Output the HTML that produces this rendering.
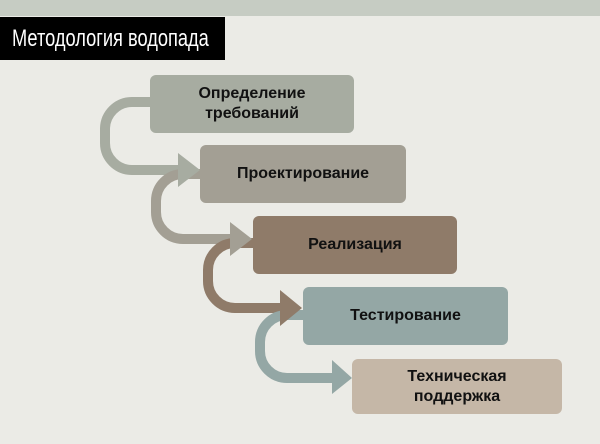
<!DOCTYPE html>
<html><head><meta charset="utf-8"><style>
body{margin:0;width:600px;height:444px;background:#ebebe6;overflow:hidden;position:relative;font-family:"Liberation Sans","DejaVu Sans",sans-serif}
.band{position:absolute;left:0;top:0;width:600px;height:16px;background:#c6ccc3}
.title{position:absolute;left:0;top:17px;width:225px;height:43px;background:#000}
.title span{position:absolute;left:12px;top:0;color:#fff;font-size:24px;line-height:43px;white-space:nowrap;transform:scaleX(0.76);transform-origin:left center}
.b{position:absolute;border-radius:6px;display:flex;align-items:center;justify-content:center;text-align:center;font-weight:bold;font-size:16px;line-height:20px;color:#111}
svg{position:absolute;left:0;top:0}
</style></head><body>
<div class="band"></div>
<div class="title"><span>Методология водопада</span></div>
<svg width="600" height="444">
<g fill="none" stroke-width="10">
<path d="M152,102 H132 A27,27 0 0 0 105,129 V143 A27,27 0 0 0 132,170 H182" stroke="#a7aca1"/>
<path d="M202,174 H183 A27,27 0 0 0 156,201 V212 A27,27 0 0 0 183,239 H233" stroke="#a39f94"/>
<path d="M255,243 H235 A27,27 0 0 0 208,270 V281 A27,27 0 0 0 235,308 H283" stroke="#8f7b69"/>
<path d="M305,315 H287 A27,27 0 0 0 260,342 V351 A27,27 0 0 0 287,378 H334" stroke="#94a7a5"/>
</g>
<polygon points="178,153 200,170 178,187" fill="#a7aca1"/>
<polygon points="230,222 252,239 230,256" fill="#a39f94"/>
<polygon points="280,290 302,308 280,326" fill="#8f7b69"/>
<polygon points="332,360 352,378 332,394" fill="#94a7a5"/>
</svg>
<div class="b" style="left:150px;top:75px;width:204px;height:58px;background:#a7aca1">Определение<br>требований</div>
<div class="b" style="left:200px;top:145px;width:206px;height:58px;background:#a39f94">Проектирование</div>
<div class="b" style="left:253px;top:216px;width:204px;height:58px;background:#8f7b69">Реализация</div>
<div class="b" style="left:303px;top:287px;width:205px;height:58px;background:#94a7a5">Тестирование</div>
<div class="b" style="left:352px;top:359px;width:210px;height:55px;background:#c5b7a7">Техническая<br>поддержка</div>
</body></html>
